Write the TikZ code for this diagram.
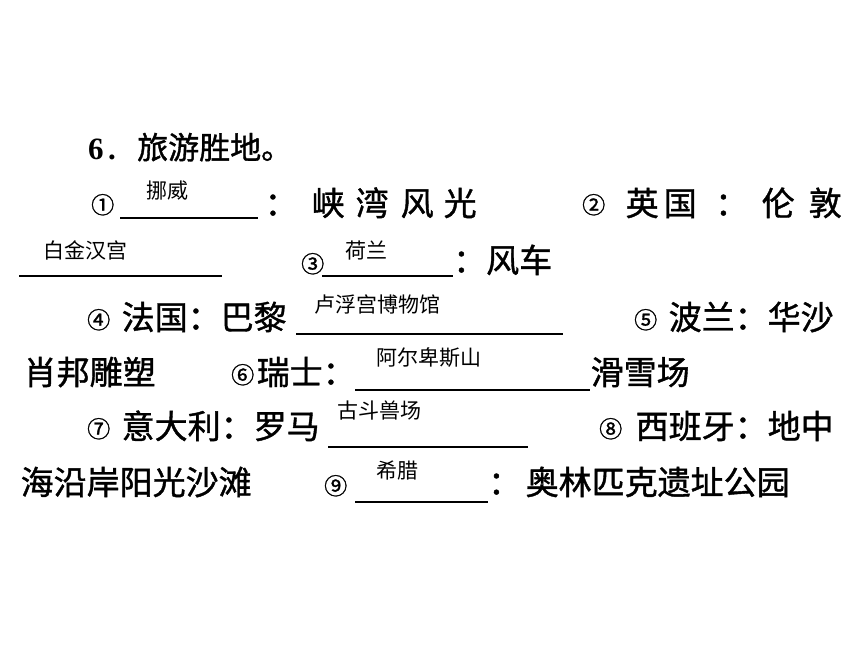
\documentclass[tikz,border=0pt]{standalone}
\usepackage{fontspec}
\setmainfont{Liberation Serif}
\newfontfamily\cjk{Noto Sans CJK SC}
\newfontfamily\cjkb{Noto Sans CJK SC}[FakeBold=1.2]
\begin{document}
\begin{tikzpicture}[x=1pt,y=-1pt,
  mt/.style={anchor=base west,inner sep=0pt,font=\cjkb\fontsize{33}{33}\selectfont},
  ct/.style={anchor=base west,inner sep=0pt,font=\cjkb\fontsize{23}{23}\selectfont},
  st/.style={anchor=base west,inner sep=0pt,font=\cjk\fontsize{21}{21}\selectfont},
  ul/.style={line width=1.6pt}]
\useasboundingbox (0,0) rectangle (860,645);
% line 1
\node[anchor=base west,inner sep=0pt,font=\bfseries\fontsize{31}{31}\selectfont] (six) at (88,159) {6};
\node[anchor=base west,inner sep=0pt,font=\bfseries\fontsize{31}{31}\selectfont] (dot) at (108,159) {.};
\node[mt,font=\cjkb\fontsize{31}{31}\selectfont] (t1) at (137,159) {旅游胜地。};
% line 2
\node[ct] (c1) at (91,213.5) {①};
\coordinate (u1a) at (120,218); \coordinate (u1b) at (258,218);
\draw[ul] (u1a) -- (u1b);
\node[st] (a1) at (146,198) {挪威};
\node[mt] (l2a) at (264.5,215.5) {：};
\node[mt] (l2b) at (311.5,215.5) {峡};
\node[mt] (l2c) at (355.5,215.5) {湾};
\node[mt] (l2d) at (400.5,215.5) {风};
\node[mt] (l2e) at (443.5,215.5) {光};
\node[ct] (c2) at (582,213.5) {②};
\node[mt] (l2f) at (625.5,215.5) {英};
\node[mt] (l2g) at (663.5,215.5) {国};
\node[mt] (l2h) at (715,215.5) {：};
\node[mt] (l2i) at (761.5,215.5) {伦};
\node[mt] (l2j) at (808.5,215.5) {敦};
% line 3
\coordinate (u2a) at (19,276); \coordinate (u2b) at (222,276);
\draw[ul] (u2a) -- (u2b);
\node[st] (a2) at (43,258) {白金汉宫};
\node[ct] (c3) at (301,272.5) {③};
\coordinate (u3a) at (322,276); \coordinate (u3b) at (453,276);
\draw[ul] (u3a) -- (u3b);
\node[st] (a3) at (345,258) {荷兰};
\node[mt] (l3a) at (453,272.5) {：风车};
% line 4
\node[ct] (c4) at (87,328.5) {④};
\node[mt] (l4a) at (121.5,329.5) {法国：巴黎};
\coordinate (u4a) at (296,334); \coordinate (u4b) at (563,334);
\draw[ul] (u4a) -- (u4b);
\node[st] (a4) at (314,312) {卢浮宫博物馆};
\node[ct] (c5) at (634,328.5) {⑤};
\node[mt] (l4b) at (668.5,329.5) {波兰：华沙};
% line 5
\node[mt] (l5a) at (23.5,384.5) {肖邦雕塑};
\node[ct] (c6) at (231,383.5) {⑥};
\node[mt] (l5b) at (256.5,384.5) {瑞士：};
\coordinate (u5a) at (355,390); \coordinate (u5b) at (590,390);
\draw[ul] (u5a) -- (u5b);
\node[st] (a5) at (376,365) {阿尔卑斯山};
\node[mt] (l5c) at (590.5,384.5) {滑雪场};
% line 6
\node[ct] (c7) at (87,437.5) {⑦};
\node[mt] (l6a) at (121.5,438.5) {意大利：罗马};
\coordinate (u6a) at (328,447); \coordinate (u6b) at (528,447);
\draw[ul] (u6a) -- (u6b);
\node[st] (a6) at (337,418) {古斗兽场};
\node[ct] (c8) at (599,437.5) {⑧};
\node[mt] (l6b) at (635.5,438.5) {西班牙：地中};
% line 7
\node[mt] (l7a) at (20.5,494.5) {海沿岸阳光沙滩};
\node[ct] (c9) at (324,494.5) {⑨};
\coordinate (u7a) at (355,502); \coordinate (u7b) at (488,502);
\draw[ul] (u7a) -- (u7b);
\node[st] (a7) at (376,478) {希腊};
\node[mt] (l7b) at (488,494.5) {：};
\node[mt] (l7c) at (525.5,494.5) {奥林匹克遗址公园};
\end{tikzpicture}
\end{document}
